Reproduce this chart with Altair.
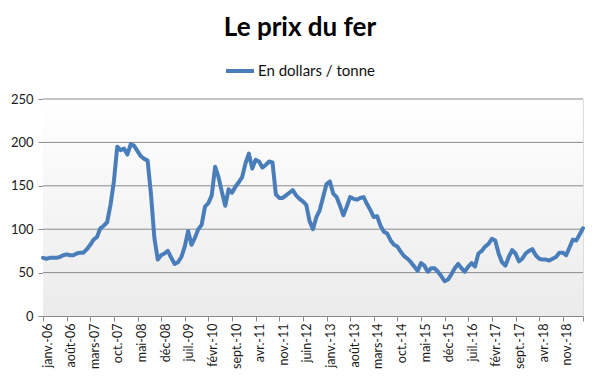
import json
import altair as alt
import pandas as pd

# Monthly iron ore price, USD / tonne, janv. 2006 .. mai 2019
values = [
    67, 66, 67, 67, 67, 68, 70, 71, 70, 70, 72, 73,          # 2006
    73, 77, 82, 88, 91, 101, 104, 108, 128, 155, 195, 191,   # 2007
    193, 186, 198, 196, 190, 184, 181, 179, 140, 90, 65, 70,  # 2008
    72, 75, 67, 60, 62, 68, 80, 98, 82, 90, 100, 105,         # 2009
    126, 130, 139, 172, 160, 143, 127, 146, 142, 149, 154, 160,  # 2010
    176, 187, 170, 180, 178, 171, 174, 178, 177, 140, 136, 136,  # 2011
    139, 142, 145, 139, 135, 132, 128, 109, 100, 114, 122, 137,  # 2012
    152, 155, 141, 137, 127, 116, 126, 137, 135, 134, 136, 137,  # 2013
    129, 122, 114, 115, 104, 97, 95, 87, 82, 80, 74, 69,      # 2014
    66, 62, 57, 52, 61, 58, 51, 55, 55, 51, 46, 40,           # 2015
    42, 48, 55, 60, 55, 51, 57, 61, 57, 72, 75, 80,           # 2016
    83, 89, 87, 72, 62, 58, 68, 76, 72, 63, 66, 72,           # 2017
    75, 77, 70, 66, 65, 65, 64, 66, 68, 73, 73, 70,           # 2018
    79, 88, 87, 94, 101,                                      # 2019
]
series_name = "En dollars / tonne"
tick_positions = [0, 7, 14, 21, 28, 35, 42, 49, 56, 63, 70, 77, 84, 91, 98,
                  105, 112, 119, 126, 133, 140, 147, 154, 160]
tick_labels = ["janv.-06", "août-06", "mars-07", "oct.-07", "mai-08", "déc-08",
               "juil.-09", "févr.-10", "sept.-10", "avr.-11", "nov.-11", "juin-12",
               "janv.-13", "août-13", "mars-14", "oct.-14", "mai-15", "déc-15",
               "juil.-16", "févr.-17", "sept.-17", "avr.-18", "nov.-18", ""]
y_ticks = [0, 50, 100, 150, 200, 250]
x_domain = [0, 160]
y_domain = [0, 250]

df = pd.DataFrame({
    "i": list(range(len(values))),
    "prix": values,
    "serie": [series_name] * len(values),
})
grid_df = pd.DataFrame({"g": y_ticks[1:]})

label_expr = f"{json.dumps(tick_labels, ensure_ascii=False)}[indexof({json.dumps(tick_positions)}, datum.value)]"

FONT = "Lato"
GRID = "#8a8a8a"

x_scale = alt.Scale(domain=x_domain, nice=False, zero=False)
y_scale = alt.Scale(domain=y_domain, nice=False)

x_axis = alt.Axis(values=tick_positions, labelExpr=label_expr, labelAngle=-90,
                  labelAlign="right", labelBaseline="middle", labelOffset=4,
                  labelPadding=2, tickSize=5, grid=False, title=None,
                  labelFont=FONT, labelFontSize=12.5, labelColor="#1a1a1a",
                  domainColor=GRID, tickColor=GRID, labelOverlap=False,
                  labelFlush=False)
y_axis = alt.Axis(values=y_ticks, tickSize=5, labelPadding=5, title=None,
                  grid=False, labelFont=FONT, labelFontSize=13,
                  labelColor="#1a1a1a", domainColor=GRID, tickColor=GRID)

gradient = alt.LinearGradient(gradient="linear",
                              stops=[alt.GradientStop(color="#ffffff", offset=0),
                                     alt.GradientStop(color="#ebebeb", offset=1)],
                              x1=0, x2=0, y1=0, y2=1)

background = alt.Chart(df).mark_rect(fill=gradient, strokeWidth=0).encode(
    x=alt.X(datum=x_domain[0], type="quantitative", scale=x_scale, axis=x_axis),
    x2=alt.datum(x_domain[1]),
    y=alt.Y(datum=y_domain[0], type="quantitative", scale=y_scale, axis=y_axis),
    y2=alt.datum(y_domain[1]),
)

grid = alt.Chart(grid_df).mark_rule(color=GRID, strokeWidth=1).encode(
    y=alt.Y("g:Q", scale=y_scale, axis=y_axis),
)

line = alt.Chart(df).mark_line(
    strokeWidth=4, strokeJoin="round", strokeCap="round"
).encode(
    x=alt.X("i:Q", scale=x_scale, axis=x_axis),
    y=alt.Y("prix:Q", scale=y_scale, axis=y_axis),
    color=alt.Color("serie:N",
                    scale=alt.Scale(range=["#4a7ebb"]),
                    legend=alt.Legend(title=None, orient="none", legendX=181, legendY=-44,
                                      symbolType="stroke", symbolSize=784,
                                      symbolStrokeWidth=4, labelFont=FONT,
                                      labelFontSize=15, labelColor="#111",
                                      labelOffset=2, padding=0)),
)

chart = alt.layer(background, grid, line).properties(
    width=540,
    height=217,
    autosize=alt.AutoSizeParams(type="none"),
    padding={"left": 35, "top": 91, "right": 9, "bottom": 62},
    title=alt.TitleParams("Le prix du fer", anchor="middle", frame="group",
                          font=FONT, fontSize=26, fontWeight="bold", color="#000",
                          offset=14, dx=-13),
).configure_view(
    strokeWidth=0,
).configure_axis(
    labelOverlap=False,
).configure(background="#ffffff")

chart.save("out.html", embed_options={"renderer": "svg", "actions": False})
